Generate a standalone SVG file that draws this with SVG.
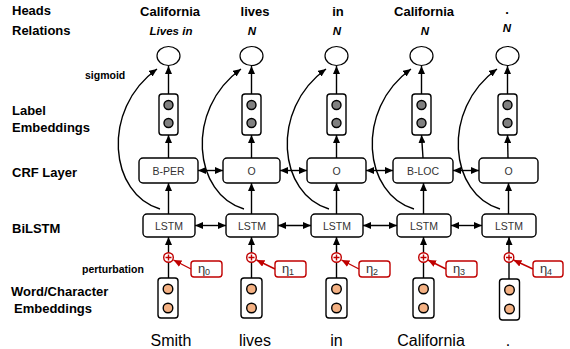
<svg xmlns="http://www.w3.org/2000/svg" width="570" height="349" viewBox="0 0 570 349">
<defs>
<marker id="ah" markerUnits="userSpaceOnUse" markerWidth="8" markerHeight="7" refX="8" refY="3.5" orient="auto-start-reverse"><path d="M0,0 L8,3.5 L0,7 z" fill="#000"/></marker>
<marker id="ahr" markerUnits="userSpaceOnUse" markerWidth="8" markerHeight="7" refX="8" refY="3.5" orient="auto"><path d="M0,0 L8,3.5 L0,7 z" fill="#c00000"/></marker>
<style>
.lbl{font-family:"Liberation Sans",Arial,sans-serif;font-weight:bold;font-size:13px;fill:#000}
.sm{font-family:"Liberation Sans",Arial,sans-serif;font-weight:bold;font-size:10.5px;fill:#000}
.hd{font-family:"Liberation Sans",Arial,sans-serif;font-weight:bold;font-size:13px;fill:#000;text-anchor:middle}
.rel{font-family:"Liberation Sans",Arial,sans-serif;font-weight:bold;font-style:italic;font-size:11.5px;fill:#000;text-anchor:middle}
.box{fill:#fff;stroke:#000;stroke-width:1.4}
.bt{font-family:"Liberation Sans",Arial,sans-serif;font-size:10.5px;fill:#333;text-anchor:middle}
.word{font-family:"Liberation Sans",Arial,sans-serif;font-size:16px;fill:#000;text-anchor:middle}
.gdot{fill:#808080;stroke:#000;stroke-width:1.4}
.odot{fill:#f4b183;stroke:#000;stroke-width:1.4}
.circ{fill:#fff;stroke:#000;stroke-width:1.2}
.ln{stroke:#000;stroke-width:1.4;fill:none}
.rln{stroke:#c00000;stroke-width:1.4;fill:none}
.ebox{fill:#fff;stroke:#c00000;stroke-width:1.4}
.eta{font-family:"Liberation Sans",Arial,sans-serif;font-size:13px;fill:#333;text-anchor:middle}
.plus{fill:#fff;stroke:#c00000;stroke-width:1.4}
</style>
</defs>
<g id="row-labels">
<text class="lbl" x="12" y="15">Heads</text>
<text class="lbl" x="12" y="35">Relations</text>
<text class="sm" x="85" y="79">sigmoid</text>
<text class="lbl" x="12" y="115">Label</text>
<text class="lbl" x="12" y="132">Embeddings</text>
<text class="lbl" x="12" y="177">CRF Layer</text>
<text class="lbl" x="12" y="233">BiLSTM</text>
<text class="sm" x="82" y="273">perturbation</text>
<text class="lbl" x="11" y="296">Word/Character</text>
<text class="lbl" x="14" y="313">Embeddings</text>
</g>
<g id="connectors">
<!-- curves LSTM -> sigmoid output -->
<path class="ln" d="M160,209 C110,195 100,110 157,69" marker-end="url(#ah)"/>
<path class="ln" d="M244,209 C194,195 184,110 241,69" marker-end="url(#ah)"/>
<path class="ln" d="M329,209 C279,195 269,110 326,69" marker-end="url(#ah)"/>
<path class="ln" d="M414,209 C364,195 354,110 411,69" marker-end="url(#ah)"/>
<path class="ln" d="M500,209 C450,195 440,110 497,69" marker-end="url(#ah)"/>
<!-- vertical arrows -->
<g id="col-arrows">
<line class="ln" x1="168.5" y1="94" x2="168.5" y2="66" marker-end="url(#ah)"/>
<line class="ln" x1="168.5" y1="158" x2="168.5" y2="135" marker-end="url(#ah)"/>
<line class="ln" x1="168.5" y1="214" x2="168.5" y2="183" marker-end="url(#ah)"/>
<line class="ln" x1="168.5" y1="278" x2="168.5" y2="237" marker-end="url(#ah)"/>
<line class="ln" x1="251.5" y1="94" x2="251.5" y2="66" marker-end="url(#ah)"/>
<line class="ln" x1="251.5" y1="158" x2="251.5" y2="135" marker-end="url(#ah)"/>
<line class="ln" x1="251.5" y1="214" x2="251.5" y2="183" marker-end="url(#ah)"/>
<line class="ln" x1="251.5" y1="278" x2="251.5" y2="237" marker-end="url(#ah)"/>
<line class="ln" x1="336.5" y1="94" x2="336.5" y2="66" marker-end="url(#ah)"/>
<line class="ln" x1="336.5" y1="158" x2="336.5" y2="135" marker-end="url(#ah)"/>
<line class="ln" x1="336.5" y1="214" x2="336.5" y2="183" marker-end="url(#ah)"/>
<line class="ln" x1="336.5" y1="278" x2="336.5" y2="237" marker-end="url(#ah)"/>
<line class="ln" x1="421.5" y1="94" x2="421.5" y2="66" marker-end="url(#ah)"/>
<line class="ln" x1="423" y1="158" x2="421.5" y2="135" marker-end="url(#ah)"/>
<line class="ln" x1="423.5" y1="214" x2="423.5" y2="183" marker-end="url(#ah)"/>
<line class="ln" x1="423.5" y1="278" x2="423.5" y2="237" marker-end="url(#ah)"/>
<line class="ln" x1="507.5" y1="94" x2="507.5" y2="66" marker-end="url(#ah)"/>
<line class="ln" x1="508" y1="158" x2="507.5" y2="135" marker-end="url(#ah)"/>
<line class="ln" x1="508.5" y1="214" x2="508.5" y2="183" marker-end="url(#ah)"/>
<line class="ln" x1="509" y1="279" x2="509" y2="237" marker-end="url(#ah)"/>
</g>
<!-- horizontal bidirectional arrows -->
<g id="h-arrows">
<line class="ln" x1="198" y1="170.5" x2="223" y2="170.5" marker-start="url(#ah)" marker-end="url(#ah)"/>
<line class="ln" x1="280" y1="170.5" x2="307" y2="170.5" marker-start="url(#ah)" marker-end="url(#ah)"/>
<line class="ln" x1="366" y1="170.5" x2="393" y2="170.5" marker-start="url(#ah)" marker-end="url(#ah)"/>
<line class="ln" x1="453" y1="170.5" x2="479" y2="170.5" marker-start="url(#ah)" marker-end="url(#ah)"/>
<line class="ln" x1="195" y1="225.5" x2="226" y2="225.5" marker-start="url(#ah)" marker-end="url(#ah)"/>
<line class="ln" x1="278" y1="225.5" x2="311" y2="225.5" marker-start="url(#ah)" marker-end="url(#ah)"/>
<line class="ln" x1="363" y1="225.5" x2="397" y2="225.5" marker-start="url(#ah)" marker-end="url(#ah)"/>
<line class="ln" x1="451" y1="225.5" x2="482" y2="225.5" marker-start="url(#ah)" marker-end="url(#ah)"/>
</g>
<!-- perturbation arrows -->
<g id="eta-arrows">
<line class="rln" x1="191" y1="269" x2="173.5" y2="260" marker-end="url(#ahr)"/>
<line class="rln" x1="275" y1="269" x2="256.5" y2="260" marker-end="url(#ahr)"/>
<line class="rln" x1="359" y1="269" x2="341.5" y2="260" marker-end="url(#ahr)"/>
<line class="rln" x1="446" y1="269" x2="428" y2="260" marker-end="url(#ahr)"/>
<line class="rln" x1="533" y1="269" x2="513.5" y2="260" marker-end="url(#ahr)"/>
</g>
</g>
<g id="headers">
<text class="hd" x="170" y="16">California</text>
<text class="rel" x="171" y="35">Lives in</text>
<text class="hd" x="255" y="16">lives</text>
<text class="rel" x="252" y="35">N</text>
<text class="hd" x="338" y="16">in</text>
<text class="rel" x="337" y="35">N</text>
<text class="hd" x="424" y="16">California</text>
<text class="rel" x="425" y="35">N</text>
<text class="hd" x="507" y="14">.</text>
<text class="rel" x="507" y="32">N</text>
</g>
<g id="col1">
<ellipse class="circ" cx="168.5" cy="56" rx="11.5" ry="9.5"/>
<rect class="box" x="159" y="94" width="19" height="41" rx="3"/>
<circle class="gdot" cx="168.5" cy="105" r="4.5"/><circle class="gdot" cx="168.5" cy="123" r="4.5"/>
<rect class="box" x="139" y="158" width="59" height="25" rx="4"/><text class="bt" x="168.5" y="174.5">B-PER</text>
<rect class="box" x="143" y="214" width="52" height="23" rx="4"/><text class="bt" x="169" y="229.5">LSTM</text>
<circle class="plus" cx="168.5" cy="257.5" r="4.8"/><path class="rln" d="M165.5,257.5 H171.5 M168.5,254.5 V260.5"/>
<rect class="ebox" x="191" y="261" width="31" height="16" rx="3"/><text class="eta" x="204" y="273">η<tspan font-size="9" dy="2">0</tspan></text>
<rect class="box" x="158" y="278" width="20" height="40" rx="3"/>
<circle class="odot" cx="168" cy="289" r="4.8"/><circle class="odot" cx="168" cy="308" r="4.8"/>
<text class="word" x="171" y="346">Smith</text>
</g>
<g id="col2">
<ellipse class="circ" cx="251.5" cy="56" rx="11.5" ry="9.5"/>
<rect class="box" x="242" y="94" width="19" height="41" rx="3"/>
<circle class="gdot" cx="251.5" cy="105" r="4.5"/><circle class="gdot" cx="251.5" cy="123" r="4.5"/>
<rect class="box" x="223" y="158" width="57" height="25" rx="4"/><text class="bt" x="251.5" y="174.5">O</text>
<rect class="box" x="226" y="214" width="52" height="23" rx="4"/><text class="bt" x="252" y="229.5">LSTM</text>
<circle class="plus" cx="251.5" cy="257.5" r="4.8"/><path class="rln" d="M248.5,257.5 H254.5 M251.5,254.5 V260.5"/>
<rect class="ebox" x="275" y="261" width="31" height="16" rx="3"/><text class="eta" x="288" y="273">η<tspan font-size="9" dy="2">1</tspan></text>
<rect class="box" x="241" y="278" width="21" height="40" rx="3"/>
<circle class="odot" cx="251.5" cy="289" r="4.8"/><circle class="odot" cx="251.5" cy="308" r="4.8"/>
<text class="word" x="255" y="346">lives</text>
</g>
<g id="col3">
<ellipse class="circ" cx="336.5" cy="56" rx="11.5" ry="9.5"/>
<rect class="box" x="327" y="94" width="19" height="41" rx="3"/>
<circle class="gdot" cx="336.5" cy="105" r="4.5"/><circle class="gdot" cx="336.5" cy="123" r="4.5"/>
<rect class="box" x="307" y="158" width="59" height="25" rx="4"/><text class="bt" x="336.5" y="174.5">O</text>
<rect class="box" x="311" y="214" width="52" height="23" rx="4"/><text class="bt" x="337" y="229.5">LSTM</text>
<circle class="plus" cx="336.5" cy="257.5" r="4.8"/><path class="rln" d="M333.5,257.5 H339.5 M336.5,254.5 V260.5"/>
<rect class="ebox" x="359" y="261" width="31" height="16" rx="3"/><text class="eta" x="372" y="273">η<tspan font-size="9" dy="2">2</tspan></text>
<rect class="box" x="326" y="278" width="21" height="40" rx="3"/>
<circle class="odot" cx="336.5" cy="289" r="4.8"/><circle class="odot" cx="336.5" cy="308" r="4.8"/>
<text class="word" x="336.5" y="346">in</text>
</g>
<g id="col4">
<ellipse class="circ" cx="421.5" cy="56" rx="11.5" ry="9.5"/>
<rect class="box" x="412" y="94" width="19" height="41" rx="3"/>
<circle class="gdot" cx="421.5" cy="105" r="4.5"/><circle class="gdot" cx="421.5" cy="123" r="4.5"/>
<rect class="box" x="393" y="158" width="60" height="25" rx="4"/><text class="bt" x="423" y="174.5">B-LOC</text>
<rect class="box" x="397" y="214" width="54" height="23" rx="4"/><text class="bt" x="424" y="229.5">LSTM</text>
<circle class="plus" cx="423.5" cy="257.5" r="4.8"/><path class="rln" d="M420.5,257.5 H426.5 M423.5,254.5 V260.5"/>
<rect class="ebox" x="446" y="261" width="31" height="16" rx="3"/><text class="eta" x="459" y="273">η<tspan font-size="9" dy="2">3</tspan></text>
<rect class="box" x="413" y="278" width="21" height="40" rx="3"/>
<circle class="odot" cx="423.5" cy="289" r="4.8"/><circle class="odot" cx="423.5" cy="308" r="4.8"/>
<text class="word" x="431" y="346">California</text>
</g>
<g id="col5">
<ellipse class="circ" cx="507.5" cy="56" rx="11.5" ry="9.5"/>
<rect class="box" x="498" y="94" width="19" height="41" rx="3"/>
<circle class="gdot" cx="507.5" cy="105" r="4.5"/><circle class="gdot" cx="507.5" cy="123" r="4.5"/>
<rect class="box" x="479" y="158" width="59" height="25" rx="4"/><text class="bt" x="508.5" y="174.5">O</text>
<rect class="box" x="482" y="214" width="54" height="23" rx="4"/><text class="bt" x="509" y="229.5">LSTM</text>
<circle class="plus" cx="509" cy="257.5" r="4.8"/><path class="rln" d="M506,257.5 H512 M509,254.5 V260.5"/>
<rect class="ebox" x="533" y="261" width="30" height="16" rx="3"/><text class="eta" x="546" y="273">η<tspan font-size="9" dy="2">4</tspan></text>
<rect class="box" x="499.5" y="279" width="20" height="41" rx="3"/>
<circle class="odot" cx="509.5" cy="290" r="4.8"/><circle class="odot" cx="509.5" cy="309" r="4.8"/>
<text class="word" x="508" y="346">.</text>
</g>
</svg>
